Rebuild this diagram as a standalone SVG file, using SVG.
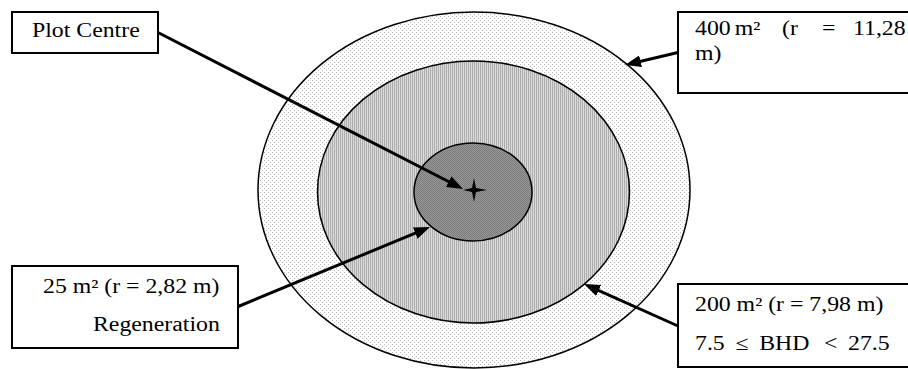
<svg xmlns="http://www.w3.org/2000/svg" width="908" height="369" viewBox="0 0 908 369">
<style>
.t{font-family:"Liberation Serif","Times New Roman",serif;font-size:20px;fill:#000}
.box{fill:#fff;stroke:#000;stroke-width:2}
.ring{stroke:#000;stroke-width:1.5}
.con{fill:none;stroke:#000;stroke-width:3}
</style>
<defs>
<pattern id="pOuter" width="4" height="4" patternUnits="userSpaceOnUse">
<rect width="4" height="4" fill="#fff"/>
<rect x="0" y="0" width="1" height="1" fill="#b8b8b8"/>
<rect x="2" y="2" width="1" height="1" fill="#b8b8b8"/>
</pattern>
<pattern id="pMid" width="2" height="2" patternUnits="userSpaceOnUse">
<rect width="2" height="2" fill="#dcdcdc"/>
<rect x="0" y="0" width="1" height="2" fill="#acacac"/>
</pattern>
<pattern id="pIn" width="2" height="2" patternUnits="userSpaceOnUse">
<rect width="2" height="2" fill="#999"/>
<rect x="0" y="0" width="1" height="1" fill="#7a7a7a"/>
<rect x="1" y="1" width="1" height="1" fill="#7a7a7a"/>
</pattern>
<marker id="ah" markerUnits="userSpaceOnUse" markerWidth="16" markerHeight="12" refX="4" refY="6" orient="auto">
<path d="M0,0 L16,6 L0,12 z" fill="#000"/>
</marker>
</defs>
<g id="plot">
<ellipse class="ring" cx="474" cy="190" rx="216" ry="178" fill="url(#pOuter)"/>
<ellipse class="ring" cx="473.5" cy="192" rx="156" ry="131" fill="url(#pMid)"/>
<ellipse class="ring" cx="473" cy="192" rx="59" ry="49" fill="url(#pIn)"/>
</g>
<g id="connectors">
<line class="con" x1="157" y1="32" x2="452.3" y2="183.5" marker-end="url(#ah)"/>
<line class="con" x1="680" y1="52" x2="636.7" y2="62.2" marker-end="url(#ah)"/>
<line class="con" x1="237" y1="307" x2="418.9" y2="231.6" marker-end="url(#ah)"/>
<line class="con" x1="678" y1="326" x2="595" y2="288.9" marker-end="url(#ah)"/>
</g>
<g id="centre">
<path d="M474,178 L476,188 L487,190 L476,192 L474,202 L472,192 L463,190 L472,188 Z" fill="#000"/>
</g>
<g id="label-plot-centre">
<rect class="box" x="12" y="12" width="146" height="41"/>
<text class="t" transform="matrix(1.19 0 0 1 32 37)">Plot Centre</text>
</g>
<g id="label-400">
<rect class="box" x="678" y="12" width="240" height="81"/>
<text class="t" transform="matrix(1.19 0 0 1 695 35)"><tspan x="0">400</tspan><tspan x="33.5">m²</tspan><tspan x="73.1">(r</tspan><tspan x="106.7">=</tspan><tspan x="132.8">11,28</tspan></text>
<text class="t" transform="matrix(1.19 0 0 1 695 60)">m)</text>
</g>
<g id="label-25">
<rect class="box" x="12" y="266" width="226" height="82"/>
<text class="t" transform="matrix(1.19 0 0 1 43 293)">25 m² (r = 2,82 m)</text>
<text class="t" transform="matrix(1.19 0 0 1 93 331)">Regeneration</text>
</g>
<g id="label-200">
<rect class="box" x="678" y="284" width="240" height="83"/>
<text class="t" transform="matrix(1.19 0 0 1 695 311)">200 m² (r = 7,98 m)</text>
<text class="t" transform="matrix(1.19 0 0 1 695 350)"><tspan x="0">7.5</tspan><tspan x="34">≤</tspan><tspan x="54">BHD</tspan><tspan x="108.5">&lt;</tspan><tspan x="128.6">27.5</tspan></text>
</g>
</svg>
